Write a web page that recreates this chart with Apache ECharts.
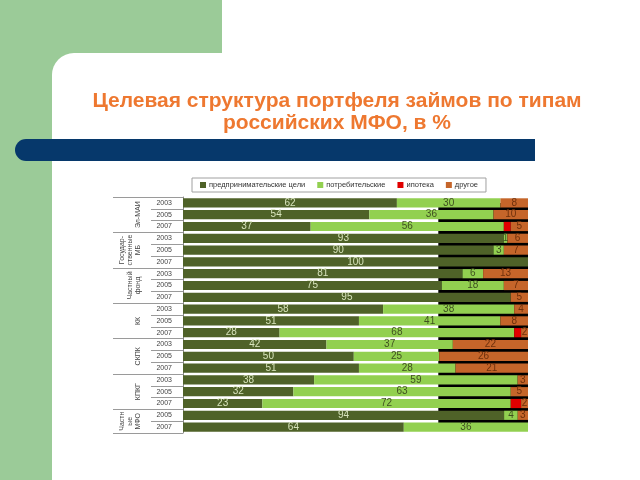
<!DOCTYPE html>
<html>
<head>
<meta charset="utf-8">
<script src="https://cdn.jsdelivr.net/npm/echarts@6/dist/echarts.min.js"></script>
<style>
  html, body { margin: 0; padding: 0; background: #ffffff; }
  #chart { width: 640px; height: 480px; }
</style>
</head>
<body>
<div id="chart"></div>
<script>
// ---- data ----
const years = ['2003','2005','2007','2003','2005','2007','2003','2005','2007','2003','2005','2007','2003','2005','2007','2003','2005','2007','2005','2007'];
const groupNames = ['Эл-МАИ', 'Государ-\nственные\nМБ', 'Частный\nфонд', 'КК', 'СКПК', 'КПКГ', 'Частн\nые\nМФО'];
const groupSizes = [3, 3, 3, 3, 3, 3, 2];
const seriesNames = ['предпринимательские цели', 'потребительские', 'ипотека', 'другое'];
const entrepreneurial = [62, 54, 37, 93, 90, 100, 81, 75, 95, 58, 51, 28, 42, 50, 51, 38, 32, 23, 94, 64];
const consumer        = [30, 36, 56,  1,  3,   0,  6, 18,  0, 38, 41, 68, 37, 25, 28, 59, 63, 72,  4, 36];
const mortgage        = [ 0,  0,  2,  0,  0,   0,  0,  0,  0,  0,  0,  2,  0,  0,  0,  0,  0,  3,  0,  0];
const other           = [ 8, 10,  5,  6,  7,   0, 13,  7,  5,  4,  8,  2, 22, 26, 21,  3,  5,  2,  3,  0];

const colors = ['#4f6228', '#92d050', '#e00000', '#c5652a'];
const labelColors = ['#d8e4bc', '#3f5020', '#ffffff', '#6e300c'];

const allSeries = [entrepreneurial, consumer, mortgage, other];
const sums = years.map((_, i) => allSeries.reduce((s, arr) => s + arr[i], 0));

// half-row positions for group label axis (boundaryGap false)
const halfCount = years.length * 2 + 1;
const groupAxisData = new Array(halfCount).fill('');
const groupTicks = new Set();
let start = 0;
groupNames.forEach((name, g) => {
  groupTicks.add(start * 2);
  groupAxisData[start * 2 + groupSizes[g]] = name;
  start += groupSizes[g];
});
groupTicks.add(start * 2);

const chart = echarts.init(document.getElementById('chart'), null, { renderer: 'canvas' });

const barSeries = allSeries.map((arr, k) => ({
  name: seriesNames[k],
  type: 'bar',
  stack: 'total',
  xAxisIndex: 0,
  yAxisIndex: 0,
  z: 3,
  barCategoryGap: '22%',
  itemStyle: { color: colors[k] },
  label: {
    show: k !== 2,
    position: 'inside',
    color: labelColors[k],
    fontSize: 10,
    fontFamily: 'Liberation Sans, Arial, sans-serif',
    formatter: p => (p.data.raw > 0 ? String(p.data.raw) : '')
  },
  emphasis: { disabled: true },
  data: arr.map((v, i) => ({ value: v / sums[i] * 100, raw: v }))
}));

const option = {
  animation: false,
  backgroundColor: '#ffffff',
  graphic: [
    { type: 'rect', z: -10, shape: { x: 0, y: 0, width: 222, height: 80 }, style: { fill: '#9bcb98' } },
    { type: 'rect', z: -10, shape: { x: 0, y: 0, width: 52, height: 480 }, style: { fill: '#9bcb98' } },
    { type: 'rect', z: -9, shape: { x: 52, y: 53, width: 600, height: 440, r: [22, 0, 0, 0] }, style: { fill: '#ffffff' } },
    { type: 'rect', z: -8, shape: { x: 15, y: 139, width: 520, height: 22, r: [11, 0, 0, 11] }, style: { fill: '#06386b' } }
  ],
  title: {
    text: 'Целевая структура портфеля займов по типам\nроссийских МФО, в %',
    left: 332,
    top: 85,
    textAlign: 'center',
    textStyle: {
      color: '#ee7830',
      fontSize: 21,
      fontWeight: 'bold',
      lineHeight: 22,
      fontFamily: 'Liberation Sans, Arial, sans-serif'
    }
  },
  legend: {
    data: seriesNames,
    left: 192,
    top: 178,
    width: 300,
    padding: [3, 8, 3, 8],
    itemGap: 12,
    itemWidth: 6,
    itemHeight: 6,
    borderColor: '#a0a0a0',
    borderWidth: 1,
    icon: 'rect',
    textStyle: { fontSize: 7.5, color: '#333333', fontFamily: 'Liberation Sans, Arial, sans-serif', padding: [0, 0, 0, -2] }
  },
  grid: { left: 183, right: 112, top: 197, bottom: 47 },
  xAxis: [{
    type: 'value', min: 0, max: 100,
    show: false, splitLine: { show: false }
  }],
  yAxis: [
    {
      type: 'category',
      inverse: true,
      data: years,
      position: 'left',
      axisLine: { show: true, lineStyle: { color: '#8a8a8a', width: 1 } },
      axisTick: { show: true, length: 32, lineStyle: { color: '#9a9a9a' } },
      axisLabel: { fontSize: 7, color: '#444444', margin: 11, fontFamily: 'Liberation Sans, Arial, sans-serif' },
      splitLine: { show: false }
    },
    {
      type: 'category',
      inverse: true,
      boundaryGap: false,
      data: groupAxisData,
      position: 'left',
      offset: 32,
      axisLine: { show: false },
      axisTick: {
        show: true, length: 38, lineStyle: { color: '#9a9a9a' },
        interval: (idx) => groupTicks.has(idx)
      },
      axisLabel: {
        show: true, rotate: 90, fontSize: 7, lineHeight: 8, color: '#444444', margin: 9,
        interval: 0,
        fontFamily: 'Liberation Sans, Arial, sans-serif'
      },
      splitLine: { show: false }
    }
  ],
  series: [
    {
      type: 'line',
      name: 'bg',
      data: [],
      z: 1,
      xAxisIndex: 0,
      yAxisIndex: 0,
      markArea: {
        silent: true,
        itemStyle: { color: '#000000' },
        data: [[{ coord: [74, 0] }, { coord: [100, 19] }]]
      }
    }
  ].concat(barSeries)
};

chart.setOption(option);
</script>
</body>
</html>
